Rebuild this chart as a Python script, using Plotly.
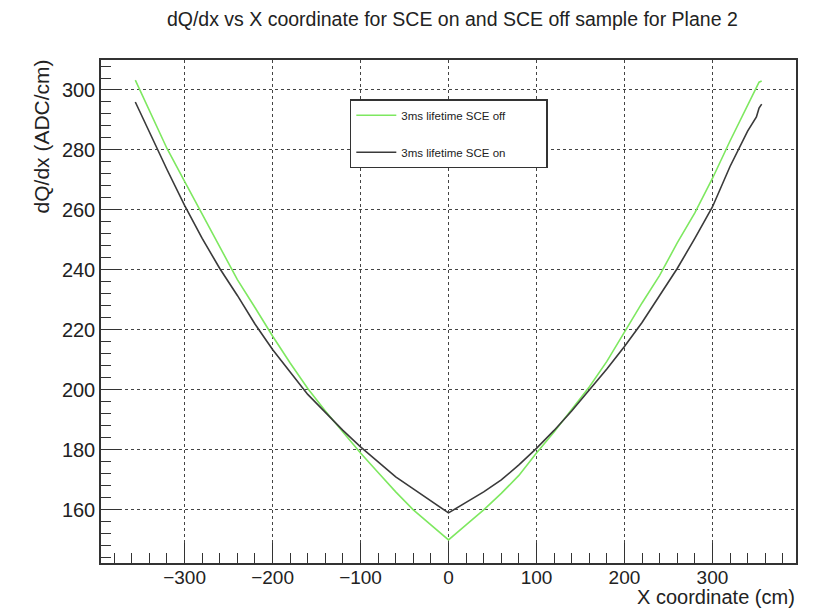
import plotly.graph_objects as go

# X coordinate (cm)
x_vals = [-356, -350, -340, -320, -300, -280, -260, -240, -220, -200, -180, -160,
          -140, -120, -100, -80, -60, -40, -20, 0,
          20, 40, 60, 80, 100, 120, 140, 160, 180, 200, 220, 240, 260, 280,
          300, 320, 340, 350, 353, 356]

# 3ms lifetime SCE off (green)
sce_off = [303.3, 299.5, 293.5, 280.5, 269.5, 258.5, 247.5, 236.8, 227.5, 218.0, 209.0, 200.5,
           193.0, 186.0, 179.0, 172.5, 166.0, 160.0, 155.0, 150.0,
           155.0, 160.0, 165.5, 171.5, 179.0, 186.0, 193.5, 201.0, 209.5, 219.5, 229.0, 238.2, 249.0, 259.0,
           270.5, 283.0, 295.0, 301.0, 302.6, 303.0]

# 3ms lifetime SCE on (black)
sce_on = [296.0, 292.2, 285.8, 273.5, 261.5, 250.5, 240.5, 231.5, 222.0, 213.5, 206.0, 198.5,
          192.5, 186.5, 181.0, 176.0, 171.0, 167.0, 163.0, 159.0,
          162.5, 166.0, 170.0, 175.0, 180.5, 186.5, 193.0, 200.0, 207.0, 214.5, 222.5, 231.5, 240.5, 250.5,
          261.0, 274.5, 286.3, 291.0, 294.0, 295.3]

series_names = ["3ms lifetime SCE off", "3ms lifetime SCE on"]
x_ticks = [-300, -200, -100, 0, 100, 200, 300]
x_tick_text = ["\u2212300", "\u2212200", "\u2212100", "0", "100", "200", "300"]
y_ticks = [160, 180, 200, 220, 240, 260, 280, 300]

FONT = "Liberation Sans, Arial, sans-serif"
PAD = "\u00a0" * 11

fig = go.Figure()
fig.add_trace(go.Scatter(x=x_vals, y=sce_off, mode="lines", name=series_names[0] + PAD,
                         line=dict(color="#7ee860", width=1.6), legendgroup="a"))
fig.add_trace(go.Scatter(x=x_vals, y=sce_on, mode="lines", name=series_names[1] + PAD,
                         line=dict(color="#3a3a3a", width=1.6), legendgroup="b"))

fig.update_layout(
    width=815, height=609,
    margin=dict(l=101, r=19, t=60, b=46),
    paper_bgcolor="white", plot_bgcolor="white",
    font=dict(family=FONT, color="#222"),
    title=dict(text="dQ/dx vs X coordinate for SCE on and SCE off sample for Plane 2",
               x=0.555, xanchor="center", xref="container",
               y=1 - 19 / 609, yanchor="middle", yref="container",
               font=dict(size=19.5, family=FONT, color="#222")),
    showlegend=True,
    legend=dict(x=0.358, y=0.922, xanchor="left", yanchor="top",
                bgcolor="white", bordercolor="#333", borderwidth=1.5,
                font=dict(size=11.5, family=FONT, color="#222"),
                tracegroupgap=18, itemwidth=40),
    annotations=[
        dict(text="X coordinate (cm)", xref="paper", yref="paper", x=1.0, y=-0.092,
             xanchor="right", yanchor="bottom", showarrow=False, borderpad=0,
             font=dict(size=20, family=FONT, color="#222")),
        dict(text="dQ/dx (ADC/cm)", xref="paper", yref="paper", x=-0.085, y=1.005,
             xanchor="center", yanchor="top", textangle=-90, showarrow=False,
             font=dict(size=21, family=FONT, color="#222")),
    ],
)

fig.update_xaxes(range=[-395, 395], tickmode="array", tickvals=x_ticks, ticktext=x_tick_text,
                 ticks="inside", ticklen=20, tickwidth=1, tickcolor="#333",
                 ticklabelstandoff=-4,
                 minor=dict(ticks="inside", ticklen=10, dtick=20, tick0=0, tickcolor="#333", showgrid=False),
                 showgrid=True, gridcolor="#444", griddash="dot", gridwidth=1,
                 showline=True, linecolor="#333", linewidth=1.5, mirror=True,
                 zeroline=False, tickfont=dict(size=19, family=FONT, color="#222"))
fig.update_yaxes(range=[142.3, 310], tickmode="array", tickvals=y_ticks,
                 ticks="inside", ticklen=20, tickwidth=1, tickcolor="#333",
                 minor=dict(ticks="inside", ticklen=10, dtick=4, tick0=0, tickcolor="#333", showgrid=False),
                 showgrid=True, gridcolor="#444", griddash="dot", gridwidth=1,
                 showline=True, linecolor="#333", linewidth=1.5, mirror=True,
                 zeroline=False, tickfont=dict(size=20, family=FONT, color="#222"))

fig.write_html("out.html")
